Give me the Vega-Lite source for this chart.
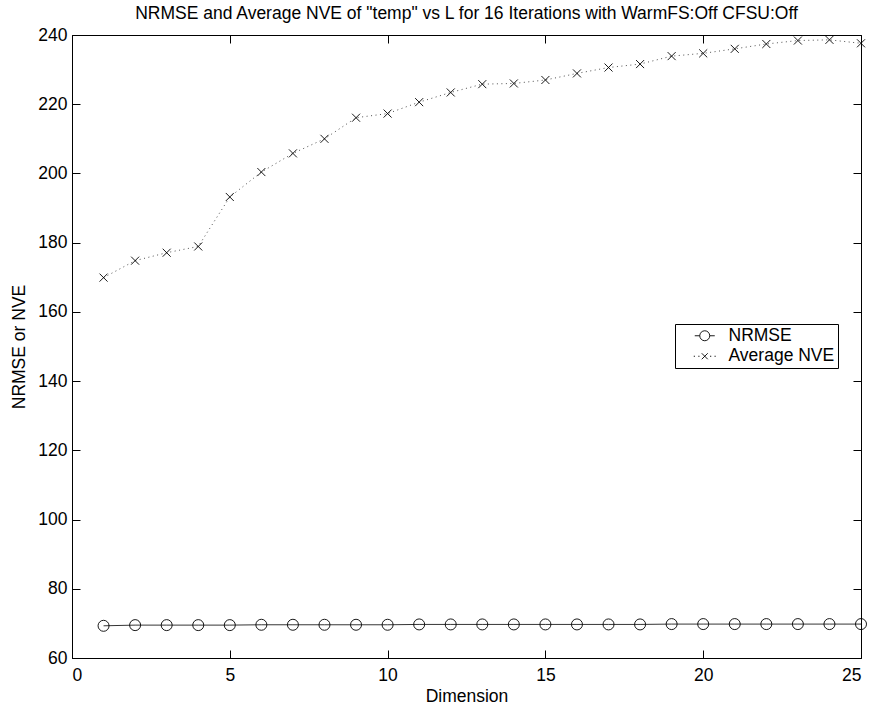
{
  "$schema": "https://vega.github.io/schema/vega-lite/v6.json",
  "width": 789,
  "height": 623,
  "autosize": {"type": "none"},
  "padding": {"left": 72, "top": 35, "right": 16, "bottom": 50},
  "background": "white",
  "title": {
    "text": "NRMSE and Average NVE of \"temp\" vs L for 16 Iterations with WarmFS:Off CFSU:Off",
    "font": "Liberation Sans",
    "fontSize": 17.5,
    "fontWeight": "normal",
    "color": "black",
    "anchor": "middle",
    "offset": 3.5
  },
  "config": {
    "view": {"stroke": "black", "strokeWidth": 1},
    "font": "Liberation Sans",
    "axis": {
      "labelFont": "Liberation Sans",
      "labelFontSize": 17.5,
      "labelColor": "black",
      "titleFont": "Liberation Sans",
      "titleFontSize": 17.5,
      "titleFontWeight": "normal",
      "titleColor": "black",
      "domainColor": "black",
      "tickColor": "black",
      "grid": false,
      "tickSize": -8
    }
  },
  "data": {
    "values": [
      {"dim": 1, "series": "NRMSE", "value": 69.3},
      {"dim": 2, "series": "NRMSE", "value": 69.5},
      {"dim": 3, "series": "NRMSE", "value": 69.5},
      {"dim": 4, "series": "NRMSE", "value": 69.5},
      {"dim": 5, "series": "NRMSE", "value": 69.5},
      {"dim": 6, "series": "NRMSE", "value": 69.6},
      {"dim": 7, "series": "NRMSE", "value": 69.6},
      {"dim": 8, "series": "NRMSE", "value": 69.6},
      {"dim": 9, "series": "NRMSE", "value": 69.6},
      {"dim": 10, "series": "NRMSE", "value": 69.6},
      {"dim": 11, "series": "NRMSE", "value": 69.7},
      {"dim": 12, "series": "NRMSE", "value": 69.7},
      {"dim": 13, "series": "NRMSE", "value": 69.7},
      {"dim": 14, "series": "NRMSE", "value": 69.7},
      {"dim": 15, "series": "NRMSE", "value": 69.7},
      {"dim": 16, "series": "NRMSE", "value": 69.7},
      {"dim": 17, "series": "NRMSE", "value": 69.7},
      {"dim": 18, "series": "NRMSE", "value": 69.7},
      {"dim": 19, "series": "NRMSE", "value": 69.8},
      {"dim": 20, "series": "NRMSE", "value": 69.8},
      {"dim": 21, "series": "NRMSE", "value": 69.8},
      {"dim": 22, "series": "NRMSE", "value": 69.8},
      {"dim": 23, "series": "NRMSE", "value": 69.8},
      {"dim": 24, "series": "NRMSE", "value": 69.8},
      {"dim": 25, "series": "NRMSE", "value": 69.8},
      {"dim": 1, "series": "Average NVE", "value": 169.9},
      {"dim": 2, "series": "Average NVE", "value": 174.8},
      {"dim": 3, "series": "Average NVE", "value": 177.1},
      {"dim": 4, "series": "Average NVE", "value": 178.9},
      {"dim": 5, "series": "Average NVE", "value": 193.2},
      {"dim": 6, "series": "Average NVE", "value": 200.4},
      {"dim": 7, "series": "Average NVE", "value": 205.8},
      {"dim": 8, "series": "Average NVE", "value": 210.0},
      {"dim": 9, "series": "Average NVE", "value": 216.1},
      {"dim": 10, "series": "Average NVE", "value": 217.3},
      {"dim": 11, "series": "Average NVE", "value": 220.6},
      {"dim": 12, "series": "Average NVE", "value": 223.4},
      {"dim": 13, "series": "Average NVE", "value": 225.8},
      {"dim": 14, "series": "Average NVE", "value": 226.0},
      {"dim": 15, "series": "Average NVE", "value": 227.0},
      {"dim": 16, "series": "Average NVE", "value": 228.9},
      {"dim": 17, "series": "Average NVE", "value": 230.6},
      {"dim": 18, "series": "Average NVE", "value": 231.6},
      {"dim": 19, "series": "Average NVE", "value": 233.9},
      {"dim": 20, "series": "Average NVE", "value": 234.7},
      {"dim": 21, "series": "Average NVE", "value": 236.0},
      {"dim": 22, "series": "Average NVE", "value": 237.4},
      {"dim": 23, "series": "Average NVE", "value": 238.4},
      {"dim": 24, "series": "Average NVE", "value": 238.6},
      {"dim": 25, "series": "Average NVE", "value": 237.6}
    ]
  },
  "resolve": {"axis": {"x": "independent", "y": "independent"}},
  "layer": [
    {
      "transform": [{"filter": "datum.series === 'NRMSE'"}],
      "mark": {"type": "line", "color": "black", "strokeWidth": 0.8},
      "encoding": {
        "x": {
          "field": "dim", "type": "quantitative",
          "scale": {"domain": [0, 25], "nice": false, "zero": false},
          "axis": {"orient": "bottom", "values": [0, 5, 10, 15, 20, 25], "title": "Dimension", "labelPadding": 16, "titlePadding": 4}
        },
        "y": {
          "field": "value", "type": "quantitative",
          "scale": {"domain": [60, 240], "nice": false, "zero": false},
          "axis": {"orient": "left", "values": [60, 80, 100, 120, 140, 160, 180, 200, 220, 240], "title": "NRMSE or NVE", "labelPadding": 13, "titlePadding": 9}
        }
      }
    },
    {
      "transform": [{"filter": "datum.series === 'Average NVE'"}],
      "mark": {"type": "line", "color": "#222222", "strokeWidth": 0.8, "strokeDash": [1, 3.5]},
      "encoding": {
        "x": {"field": "dim", "type": "quantitative", "axis": null},
        "y": {"field": "value", "type": "quantitative", "axis": null}
      }
    },
    {
      "transform": [{"filter": "datum.series === 'NRMSE'"}],
      "mark": {"type": "point", "shape": "circle", "filled": false, "color": "black", "strokeWidth": 0.9, "opacity": 1, "size": 121},
      "encoding": {
        "x": {
          "field": "dim", "type": "quantitative",
          "axis": {"orient": "top", "values": [0, 5, 10, 15, 20, 25], "labels": false, "title": null, "domain": false}
        },
        "y": {
          "field": "value", "type": "quantitative",
          "axis": {"orient": "right", "values": [60, 80, 100, 120, 140, 160, 180, 200, 220, 240], "labels": false, "title": null, "domain": false}
        }
      }
    },
    {
      "transform": [{"filter": "datum.series === 'Average NVE'"}],
      "mark": {"type": "point", "shape": "M-0.73,-0.73L0.73,0.73M-0.73,0.73L0.73,-0.73", "filled": false, "color": "black", "strokeWidth": 0.9, "opacity": 1, "size": 121},
      "encoding": {
        "x": {"field": "dim", "type": "quantitative", "axis": null},
        "y": {"field": "value", "type": "quantitative", "axis": null}
      }
    },
    {
      "description": "Legend key: line-plus-marker glyphs per series; the marks themselves are transparent",
      "mark": {"type": "point", "filled": false, "color": "black", "strokeWidth": 0.9, "opacity": 0, "size": 100},
      "encoding": {
        "x": {"field": "dim", "type": "quantitative", "axis": null},
        "y": {"field": "value", "type": "quantitative", "axis": null},
        "shape": {
          "field": "series", "type": "nominal",
          "scale": {
            "domain": ["NRMSE", "Average NVE"],
            "range": [
              "M-2,0L-1,0M1,0L2,0M1,0A1,1 0 1,1 -1,0A1,1 0 1,1 1,0",
              "M-2.2,0L-1.95,0M-1.3,0L-1.05,0M1.05,0L1.3,0M1.95,0L2.2,0M-0.6,-0.6L0.6,0.6M-0.6,0.6L0.6,-0.6"
            ]
          },
          "legend": {
            "title": null,
            "orient": "none",
            "legendX": 603,
            "legendY": 289,
            "direction": "vertical",
            "strokeColor": "black",
            "fillColor": "white",
            "padding": 3,
            "rowPadding": 1.5,
            "symbolSize": 100,
            "symbolOffset": 18,
            "symbolOpacity": 1,
            "symbolStrokeColor": "black",
            "symbolFillColor": "transparent",
            "symbolStrokeWidth": 0.9,
            "labelFont": "Liberation Sans",
            "labelFontSize": 17.5,
            "labelColor": "black",
            "labelOffset": 15
          }
        }
      }
    }
  ]
}
